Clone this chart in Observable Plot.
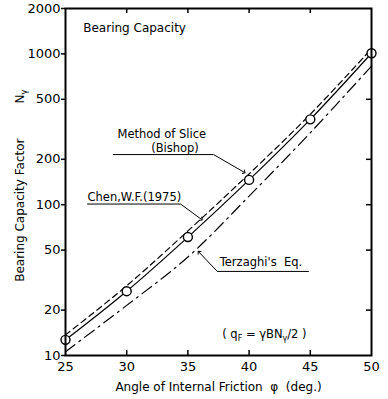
<!DOCTYPE html>
<html>
<head>
<meta charset="utf-8">
<script src="https://cdn.jsdelivr.net/npm/d3@7"></script>
<script src="https://cdn.jsdelivr.net/npm/@observablehq/plot@0.6"></script>
<style>
  html, body { margin: 0; padding: 0; background: white; }
</style>
</head>
<body>
<div id="chart"></div>
<script>
// Angle of internal friction (deg.)
const phi = [25, 30, 35, 40, 45, 50];
// Method of slice (circles, solid line)
const nSlice = [12.7, 26.7, 61, 146, 368, 1010];
// Upper (dashed) curve
const nChen = [13.7, 29, 67, 160, 398, 1080];
// Terzaghi's equation (dash-dot)
const nTerzaghi = [10.6, 21.5, 45, 114, 300, 830];

const xTicks = [25, 30, 35, 40, 45, 50];
const yTicks = [10, 20, 50, 100, 200, 500, 1000, 2000];
const innerXTicks = [30, 35, 40, 45];
const innerYTicks = [20, 50, 100, 200, 500, 1000];

// annotation texts (data coordinates, left-anchored)
const labels = [
  {text: "Bearing Capacity", x: 26.45, y: 1490, size: 12},
  {text: "Method of Slice", x: 29.25, y: 294, size: 11},
  {text: "(Bishop)", x: 32.0, y: 235, size: 11},
  {text: "Chen,W.F.(1975)", x: 26.8, y: 112, size: 11},
  {text: "Terzaghi's  Eq.", x: 37.6, y: 41.5, size: 11},
  {text: "( q_F = γBN_γ/2 )", x: 37.8, y: 13.9, size: 11}
];
const leaderSlice = [{x: 28.9, y: 215}, {x: 37.1, y: 215}, {x: 39.6, y: 164}];
const leaderChen = [{x: 26.8, y: 101}, {x: 34.4, y: 101}, {x: 36.1, y: 80}];
const leaderTerz = [{x: 44.85, y: 36.1}, {x: 37.4, y: 36.1}, {x: 35.9, y: 48.5}];

const yLabels = [
  {text: "Bearing Capacity Factor", x: 21.3, y: 92},
  {text: "N_γ", x: 21.3, y: 520}
];
const xLabel = "Angle of Internal Friction  φ  (deg.)";

const slice = phi.map((p, i) => ({phi: p, n: nSlice[i]}));
const chen = phi.map((p, i) => ({phi: p, n: nChen[i]}));
const terz = phi.map((p, i) => ({phi: p, n: nTerzaghi[i]}));

const W = 388, H = 399, mL = 65, mR = 17, mT = 8, mB = 44;
const fw = W - mL - mR, fh = H - mT - mB;

const chart = Plot.plot({
  width: W, height: H,
  marginLeft: mL, marginRight: mR, marginTop: mT, marginBottom: mB,
  style: {fontFamily: "DejaVu Sans", fontSize: "12px", background: "white", color: "black"},
  x: {domain: [25, 50]},
  y: {type: "log", domain: [10, 2000]},
  marks: [
    Plot.axisX({ticks: xTicks, tickSize: 0, tickPadding: 6, label: null, fontSize: 13, tickFormat: d => String(d)}),
    Plot.axisY({ticks: yTicks, tickSize: 4, tickPadding: 1, label: null, fontSize: 13, tickFormat: d => String(d), strokeWidth: 1.5}),
    // inward ticks
    Plot.ruleX(innerXTicks, {x: d => d, insetTop: fh - 5, strokeWidth: 1.5}),
    Plot.ruleX(innerXTicks, {x: d => d, insetBottom: fh - 5, strokeWidth: 1.5}),
    Plot.ruleY(innerYTicks, {y: d => d, insetLeft: fw - 5, strokeWidth: 1.5}),
    // curves
    Plot.line(chen, {x: "phi", y: "n", curve: "catmull-rom", strokeWidth: 1.2, strokeDasharray: "6,4"}),
    Plot.line(slice, {x: "phi", y: "n", curve: "catmull-rom", strokeWidth: 1.2}),
    Plot.line(terz, {x: "phi", y: "n", curve: "catmull-rom", strokeWidth: 1.2, strokeDasharray: "12,5,2,5"}),
    Plot.dot(slice, {x: "phi", y: "n", r: 4.5, fill: "white", stroke: "black", strokeWidth: 1.4}),
    // leaders
    Plot.line(leaderSlice, {x: "x", y: "y", strokeWidth: 1, markerEnd: "arrow"}),
    Plot.line(leaderChen, {x: "x", y: "y", strokeWidth: 1, markerEnd: "arrow"}),
    Plot.line(leaderTerz, {x: "x", y: "y", strokeWidth: 1, markerEnd: "arrow"}),
    // annotation texts
    Plot.text(labels.filter(d => d.size === 12), {x: "x", y: "y", text: "text", textAnchor: "start", fontSize: 12}),
    Plot.text(labels.filter(d => d.size === 11), {x: "x", y: "y", text: "text", textAnchor: "start", fontSize: 11.5}),
    Plot.text(yLabels, {x: "x", y: "y", text: "text", rotate: -90, fontSize: 12}),
    Plot.text([xLabel], {frameAnchor: "bottom", dy: 35, text: d => d, fontSize: 12}),
    Plot.frame({strokeWidth: 2})
  ]
});

// subscripts: "X_s" -> X with subscript s
chart.querySelectorAll("text").forEach(t => {
  const s = t.textContent;
  if (!s.includes("_")) return;
  const parts = s.split(/_(.)/);
  while (t.firstChild) t.removeChild(t.firstChild);
  const ns = "http://www.w3.org/2000/svg";
  parts.forEach((p, i) => {
    if (p === "") return;
    const ts = document.createElementNS(ns, "tspan");
    ts.textContent = p;
    if (i % 2 === 1) {
      ts.setAttribute("font-size", "8");
      ts.setAttribute("dy", "3");
    } else if (i > 0) {
      ts.setAttribute("dy", "-3");
    }
    t.appendChild(ts);
  });
});

document.getElementById("chart").appendChild(chart);
</script>
</body>
</html>
